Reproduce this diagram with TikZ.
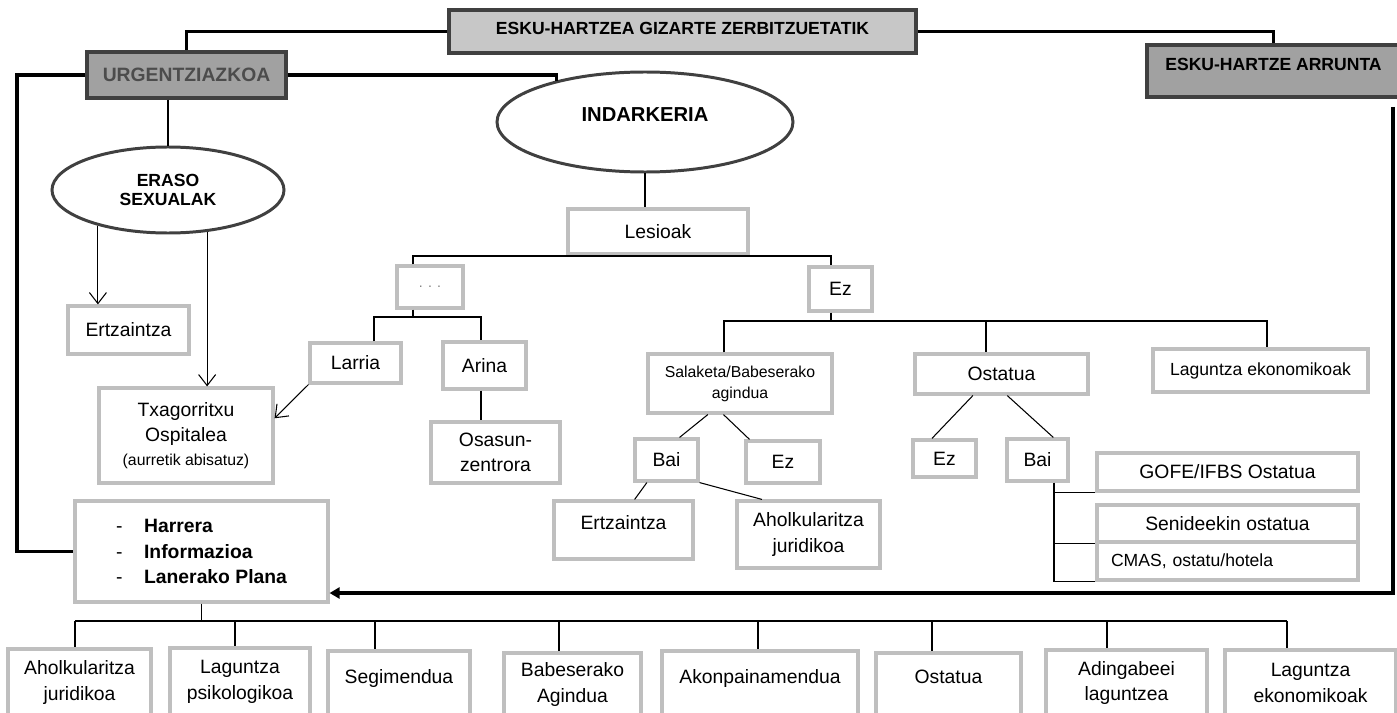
\documentclass[tikz,border=0pt]{standalone}
\usepackage{fontspec}
\setmainfont{Liberation Sans}
\usetikzlibrary{shapes.geometric,arrows.meta}
\tikzset{
  bx/.style={draw=black!25, line width=1.8pt, inner sep=0pt, align=center, font=\fontsize{11}{14.5}\selectfont},
  hd/.style={draw=black!75, line width=1.8pt, inner sep=0pt, font=\bfseries\fontsize{10}{12}\selectfont},
  ov/.style={ellipse, draw=black!75, line width=1.7pt, inner sep=0pt, align=center},
  sz/.style 2 args={minimum width=(#1)*0.02cm, minimum height=(#2)*0.02cm},
  ln/.style={line width=0.6pt},
  tk/.style={line width=1.9pt},
  opn/.style={ln, -{Straight Barb[length=2.2mm,width=3.4mm]}}
}
\begin{document}
\begin{tikzpicture}[x=0.02cm, y=-0.02cm]
\useasboundingbox (0,0) rectangle (1397,713);
\clip (0,0) rectangle (1397,713);

% head boxes
\node[hd, fill=black!22, sz={467}{43}, text depth=4pt] (top) at (682.5,31.5) {ESKU-HARTZEA GIZARTE ZERBITZUETATIK};
\node[hd, fill=black!37, sz={199}{46}, text=black!70, font=\bfseries\fontsize{11}{13}\selectfont] (urg) at (186.5,75) {URGENTZIAZKOA};
\node[hd, fill=black!37, sz={253}{52}, text depth=7pt] (arr) at (1273.5,71) {ESKU-HARTZE ARRUNTA};
\node[ov, sz={296}{100}, text depth=8pt, font=\bfseries\fontsize{11.5}{13}\selectfont] (ind) at (645,122) {INDARKERIA};
\node[ov, sz={232}{86}, font=\bfseries\fontsize{10}{11}\selectfont] (eraso) at (168,190) {ERASO\\SEXUALAK};

% urgent side
\node[bx, sz={121}{48}] (ertz1) at (128.5,330) {Ertzaintza};
\node[bx, sz={174}{95}] (txag) at (186,435.5) {Txagorritxu\\Ospitalea\\[-1pt]{\fontsize{9}{11}\selectfont (aurretik abisatuz)}};
\node[bx, sz={253}{101}, align=left, font=\bfseries\fontsize{11}{14.5}\selectfont] (harr) at (201.5,551.5)
  {\makebox[16pt][l]{\mdseries -}Harrera\\\makebox[16pt][l]{\mdseries -}Informazioa\\\makebox[16pt][l]{\mdseries -}Lanerako Plana};

% lesioak side
\node[bx, sz={180}{45}] (lesioak) at (658,231.5) {Lesioak};
\node[bx, sz={66}{42}, text=black!50, font=\fontsize{8}{9}\selectfont] (dots) at (430,287) {. . .};
\node[bx, sz={91}{40}] (larria) at (355.5,363) {Larria};
\node[bx, sz={83}{47}] (arina) at (484.5,365.5) {Arina};
\node[bx, sz={129}{61}] (osasun) at (495.5,452.5) {Osasun-\\zentrora};
\node[bx, sz={63}{44}] (ez1) at (840.5,289) {Ez};
\node[bx, sz={184}{59}, font=\fontsize{9}{12}\selectfont] (salak) at (740,383.5) {Salaketa/Babeserako\\agindua};
\node[bx, sz={173}{40}] (ostatu) at (1001.5,374) {Ostatua};
\node[bx, sz={215}{43}, font=\fontsize{10}{12}\selectfont] (lagek) at (1260.5,370.5) {Laguntza ekonomikoak};
\node[bx, sz={63}{42}] (bai1) at (666.5,460) {Bai};
\node[bx, sz={74}{42}] (ez2) at (783,462) {Ez};
\node[bx, sz={139}{58}, text depth=8pt] (ertz2) at (623.5,530) {Ertzaintza};
\node[bx, sz={143}{67}] (ahol1) at (808.5,534.5) {Aholkularitza\\juridikoa};
\node[bx, sz={63}{37}] (ez3) at (944.5,458.5) {Ez};
\node[bx, sz={61}{42}] (bai2) at (1037.5,460) {Bai};
\node[bx, sz={261}{38}] (gofe) at (1227.5,472) {GOFE/IFBS Ostatua};
\node[bx, sz={261}{37}] (senid) at (1227.5,523.5) {Senideekin ostatua};
\node[bx, sz={261}{38}, font=\fontsize{10}{12}\selectfont, align=left, text width=4.66cm, inner xsep=0.28cm] (cmas) at (1227.5,561) {CMAS, ostatu/hotela};

% thick links
\draw[tk] (top.west) -| (urg.north);
\draw[tk] (top.east) -| (arr.north);
\coordinate (lft) at (17,75);
\draw[tk] (urg.west) -- (lft) |- (harr.west);
\draw[tk] (urg.east) -| (ind.155);
\coordinate (rgt) at (1393,107);
\draw[tk, -{Triangle[length=2mm,width=2.2mm]}] (rgt) |- (harr.east |- 0,593);

% eraso sexualak
\draw[ln] (eraso.north |- urg.south) -- (eraso.north);
\draw[opn] (eraso.207) -- (eraso.207 |- ertz1.north);
\draw[opn] (eraso.313) -- (eraso.313 |- txag.north);
\draw[opn] (larria.south west) -- (txag.11);

% indarkeria
\draw[ln] (ind.south) -- (ind.south |- lesioak.north);
\coordinate (l1) at (413,256);
\coordinate (l2) at (831,256);
\draw[ln] (dots.north -| l1) |- (l2) -- (l2 |- ez1.north);
\draw[ln] (ind.south |- lesioak.south) -- (ind.south |- l1);
\coordinate (d1) at (413,317);
\coordinate (d2) at (374,317);
\coordinate (d3) at (481,317);
\draw[ln] (dots.south -| d1) -- (d1);
\draw[ln] (larria.north -| d2) -- (d2) -- (d3) -- (arina.north -| d3);
\draw[ln] (arina.south -| d3) -- (osasun.north -| d3);

% ez
\coordinate (e0) at (831,321);
\coordinate (e1) at (724,321);
\coordinate (e2) at (986,321);
\coordinate (e3) at (1267,321);
\draw[ln] (ez1.south -| e0) -- (e0);
\draw[ln] (salak.north -| e1) -- (e1) -- (e3) -- (lagek.north -| e3);
\draw[ln] (e2) -- (ostatu.north -| e2);
\draw[ln] (salak.224) -- (bai1.60);
\draw[ln] (salak.242) -- (ez2.146);
\draw[ln] (bai1.229) -- (ertz2.70);
\draw[ln] (bai1.south east) -- (ahol1.143);
\draw[ln] (ostatu.217) -- (ez3.122);
\draw[ln] (ostatu.285) -- (bai2.55);
\coordinate (b0) at (1054,0);
\draw[ln] (bai2.south -| b0) -- (cmas.south west -| b0) -- (cmas.south west);
\draw[ln] (gofe.south west -| b0) -- (gofe.south west);
\draw[ln] (senid.south west -| b0) -- (senid.south west);

% bottom row
\coordinate (hb) at (0,621);
\draw[ln] (harr.south) -- (harr.south |- hb);
\draw[ln] (75,621) -- (1287,621);
\foreach \cx/\w/\dx/\tp/\txt [count=\i] in {
  79.5/143/75/649/{Aholkularitza\\juridikoa},
  240/140/235/648/{Laguntza\\psikologikoa},
  399/142/375/651/{Segimendua\\[-6pt]\mbox{}},
  572.5/137/559/653/{Babeserako\\Agindua},
  760/196/758/651/{Akonpainamendua\\[-6pt]\mbox{}},
  948.5/145/932/653/{Ostatua\\[-6pt]\mbox{}},
  1126.5/161/1107/650/{Adingabeei\\laguntzea},
  1310.5/171/1287/650/{Laguntza\\ekonomikoak}} {
  \node[bx, sz={\w}{716-\tp}] (bt\i) at (\cx,{(716+\tp)/2}) {\txt};
  \draw[ln] (\dx,621) -- (bt\i.north -| \dx,0);
}
\end{tikzpicture}
\end{document}
